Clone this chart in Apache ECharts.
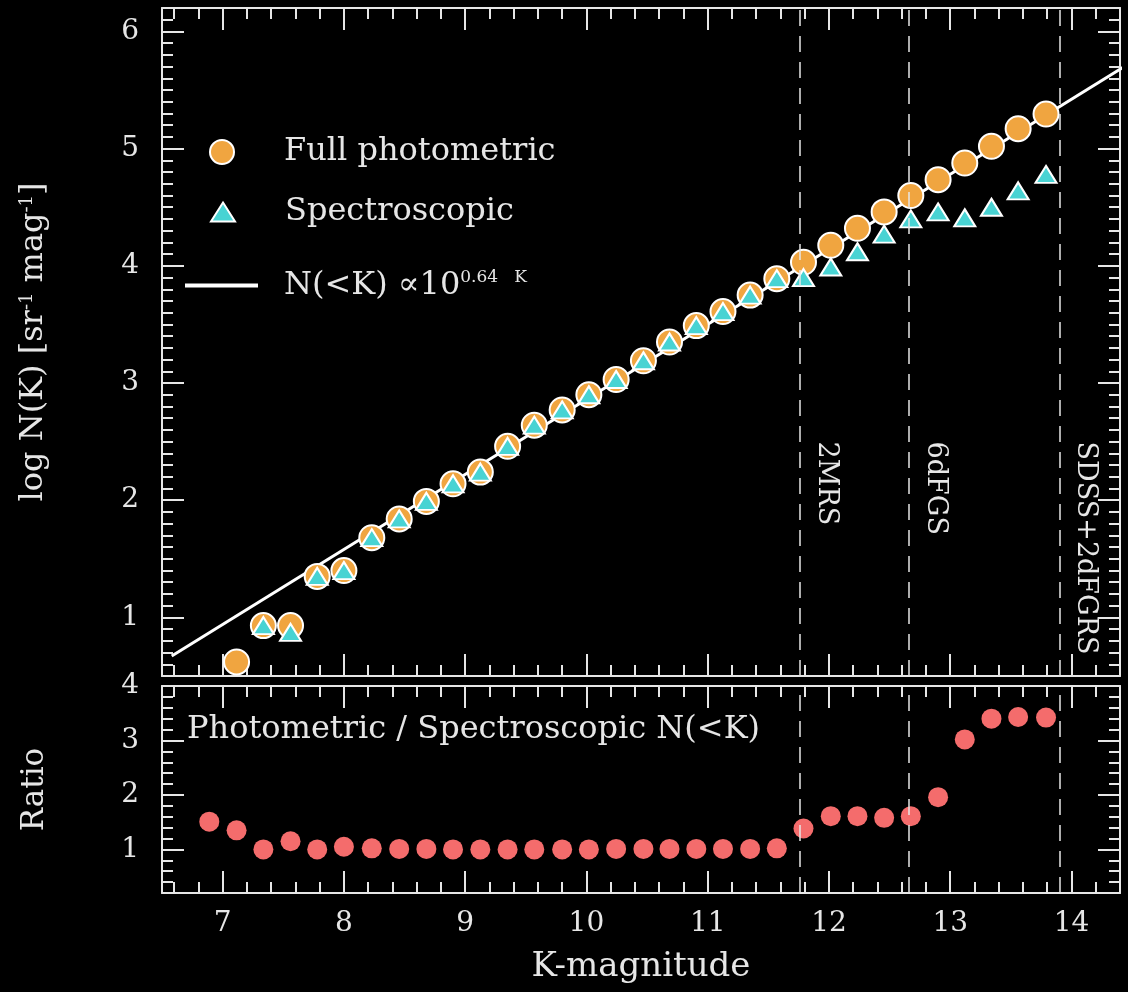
<!DOCTYPE html>
<html>
<head>
<meta charset="utf-8">
<title>K-band number counts</title>
<script src="https://cdn.jsdelivr.net/npm/echarts@6/dist/echarts.min.js"></script>
<style>
  html, body { margin: 0; padding: 0; background: #000; }
  #chart { width: 1128px; height: 992px; }
</style>
</head>
<body>
<div id="chart"></div>
<script>
// K-magnitude bins
var kBins = [6.89, 7.115, 7.336, 7.56, 7.78, 8.00, 8.23, 8.456, 8.68, 8.90, 9.125, 9.35, 9.57, 9.80, 10.02, 10.245,
  10.47, 10.685, 10.906, 11.126, 11.35, 11.57, 11.79, 12.015, 12.235, 12.455, 12.675, 12.90, 13.12, 13.34, 13.56, 13.79]
// log N(K), full photometric sample
var logNPhot = [null, 0.62, 0.93, 0.93, 1.35, 1.40, 1.68, 1.84, 1.99, 2.14, 2.24, 2.46, 2.64, 2.77, 2.90, 3.03,
  3.19, 3.35, 3.49, 3.61, 3.75, 3.89, 4.03, 4.175, 4.32, 4.46, 4.60, 4.735, 4.877, 5.02, 5.17, 5.295]
// log N(K), spectroscopic sample
var logNSpec = [null, null, 0.93, 0.873, 1.35, 1.40, 1.68, 1.84, 1.99, 2.14, 2.24, 2.46, 2.64, 2.77, 2.90, 3.03,
  3.19, 3.35, 3.49, 3.61, 3.75, 3.89, 3.90, 3.99, 4.12, 4.27, 4.40, 4.46, 4.41, 4.50, 4.64, 4.78]
// photometric / spectroscopic ratio
var ratio = [1.51, 1.35, 1.00, 1.15, 1.00, 1.05, 1.02, 1.01, 1.01, 1.00, 1.00, 1.00, 1.00, 1.00, 1.00, 1.01,
  1.01, 1.01, 1.01, 1.01, 1.01, 1.02, 1.385, 1.61, 1.61, 1.58, 1.61, 1.96, 3.02, 3.40, 3.43, 3.42]
// N(<K) ~ 10^0.64K fit, end points
var fitK = [6.58, 14.45]
var fitLogN = [0.67, 5.71]
// survey limits
var surveyK = [11.76, 12.66, 13.9]
var surveyNames = ['2MRS', '6dFGS', 'SDSS+2dFGRS']
// ticks
var kTicks = [7, 8, 9, 10, 11, 12, 13, 14]
var logNTicks = [1, 2, 3, 4, 5, 6]
var ratioTicks = [1, 2, 3, 4]

function steps (a, b, s) {
  var out = []
  for (var v = a; v <= b + 1e-9; v += s) out.push(+v.toFixed(2))
  return out
}
var kMinor = steps(6.6, 14.4, 0.2)
var logNMinor = steps(0.6, 6.1, 0.1)
var ratioMinor = steps(0.4, 3.8, 0.2)

var FONT = '"DejaVu Serif", "Liberation Serif", serif'
var FG = '#e6e6e6'
var ORANGE = '#f0a540'
var CYAN = '#48d3d3'
var RED = '#f46c6c'

function pairs (xs, ys) {
  var out = []
  for (var i = 0; i < xs.length; i++) {
    if (ys[i] !== null) out.push([xs[i], ys[i]])
  }
  return out
}

function makeAxis (grid, pos, min, max, ticks, len, withLine, withLabels) {
  return {
    type: 'value', gridIndex: grid, position: pos, min: min, max: max,
    axisLine: { show: withLine, onZero: false, lineStyle: { color: FG, width: 2 } },
    axisTick: { show: true, inside: true, length: len, customValues: ticks, lineStyle: { color: FG, width: 2 } },
    axisLabel: withLabels
      ? { show: true, customValues: ticks, color: FG, fontFamily: FONT, fontSize: 28, margin: (pos === 'left' ? 23 : 17) }
      : { show: false },
    splitLine: { show: false }
  }
}

var xAxes = []
var yAxes = []
;[0, 1].forEach(function (g) {
  ;['bottom', 'top'].forEach(function (p) {
    var lab = (g === 1 && p === 'bottom')
    xAxes.push(makeAxis(g, p, 6.5, 14.4, kTicks, 22, true, lab))
    xAxes.push(makeAxis(g, p, 6.5, 14.4, kMinor, 11, false, false))
  })
  ;['left', 'right'].forEach(function (p) {
    var lab = (p === 'left')
    var lo = g === 0 ? 0.5 : 0.2
    var hi = g === 0 ? 6.2 : 4
    yAxes.push(makeAxis(g, p, lo, hi, g === 0 ? logNTicks : ratioTicks, 22, true, lab))
    yAxes.push(makeAxis(g, p, lo, hi, g === 0 ? logNMinor : ratioMinor, 11, false, false))
  })
})
// axis titles
xAxes[4].name = 'K-magnitude'
xAxes[4].nameLocation = 'middle'
xAxes[4].nameGap = 57
xAxes[4].nameTextStyle = { color: FG, fontFamily: FONT, fontSize: 34 }
yAxes[0].name = 'log N(K) [sr{sup|-1} mag{sup|-1}]'
yAxes[0].nameLocation = 'middle'
yAxes[0].nameGap = 112
yAxes[0].nameTextStyle = {
  color: FG, fontFamily: FONT, fontSize: 32,
  rich: { sup: { color: FG, fontFamily: FONT, fontSize: 18, verticalAlign: 'top', padding: [0, 0, 12, 0] } }
}
yAxes[4].name = 'Ratio'
yAxes[4].nameLocation = 'middle'
yAxes[4].nameGap = 112
yAxes[4].nameTextStyle = { color: FG, fontFamily: FONT, fontSize: 31 }

var dashed = { color: FG, width: 1.5, type: [16, 10] }
var surveyLines = {
  silent: true, symbol: ['none', 'none'], label: { show: false }, lineStyle: dashed,
  data: surveyK.map(function (k) { return { xAxis: k } })
}

function legendRich (gap) {
  return {
    g: { width: gap },
    t: { color: FG, fontFamily: FONT, fontSize: 32 },
    sup: { color: FG, fontFamily: FONT, fontSize: 17, verticalAlign: 'top', padding: [0, 0, 16, 0] }
  }
}

var chart = echarts.init(document.getElementById('chart'))
chart.setOption({
  backgroundColor: '#000',
  animation: false,
  grid: [
    { left: 162, right: 8, top: 8, height: 668 },
    { left: 162, right: 8, top: 686, height: 207 }
  ],
  xAxis: xAxes,
  yAxis: yAxes,
  legend: [
    {
      data: ['Full photometric'], left: 209, top: 136, padding: 0, itemWidth: 26, itemHeight: 24,
      formatter: '{g| }{t|Full photometric}',
      textStyle: { color: FG, rich: legendRich(44) }
    },
    {
      data: ['Spectroscopic'], left: 210, top: 196, padding: 0, itemWidth: 24, itemHeight: 19,
      formatter: '{g| }{t|Spectroscopic}',
      textStyle: { color: FG, rich: legendRich(45) }
    },
    {
      data: [{ name: 'fit', icon: 'rect' }], left: 185, top: 269, padding: 0, itemWidth: 73, itemHeight: 4,
      formatter: '{g| }{t|N(<K) \u221d10}{sup|0.64   K}',
      textStyle: { color: FG, rich: legendRich(21) }
    }
  ],
  graphic: [
    {
      type: 'text', left: 187, top: 714,
      style: { text: 'Photometric / Spectroscopic N(<K)', fill: FG, font: '32px ' + FONT }
    }
  ],
  series: [
    {
      name: 'fit', type: 'line', xAxisIndex: 0, yAxisIndex: 0, z: 1,
      data: pairs(fitK, fitLogN), symbol: 'none', showSymbol: false,
      lineStyle: { color: '#ffffff', width: 3 }, itemStyle: { color: '#ffffff' }
    },
    {
      name: 'Full photometric', type: 'scatter', xAxisIndex: 0, yAxisIndex: 0, z: 3,
      data: pairs(kBins, logNPhot), symbol: 'circle', symbolSize: 25,
      itemStyle: { color: ORANGE, borderColor: '#ffffff', borderWidth: 2, opacity: 1 },
      markLine: surveyLines
    },
    {
      name: 'Spectroscopic', type: 'scatter', xAxisIndex: 0, yAxisIndex: 0, z: 4,
      data: pairs(kBins, logNSpec), symbol: 'triangle', symbolSize: [21, 17],
      itemStyle: { color: CYAN, borderColor: '#ffffff', borderWidth: 2, opacity: 1 }
    },
    {
      name: 'surveys', type: 'scatter', xAxisIndex: 0, yAxisIndex: 0, z: 5, silent: true,
      data: surveyK.map(function (k, i) { return { name: surveyNames[i], value: [k, 2.5] } }),
      symbolSize: 0, itemStyle: { color: FG },
      label: {
        show: true, formatter: '{b}', position: 'right', distance: 0, rotate: -90, align: 'left', verticalAlign: 'middle',
        offset: [0, -26], color: FG, opacity: 1, fontFamily: FONT, fontSize: 27
      }
    },
    {
      name: 'ratio', type: 'scatter', xAxisIndex: 4, yAxisIndex: 4, z: 3,
      data: pairs(kBins, ratio), symbol: 'circle', symbolSize: 20,
      itemStyle: { color: RED, opacity: 1 },
      markLine: surveyLines
    }
  ]
})
</script>
</body>
</html>
